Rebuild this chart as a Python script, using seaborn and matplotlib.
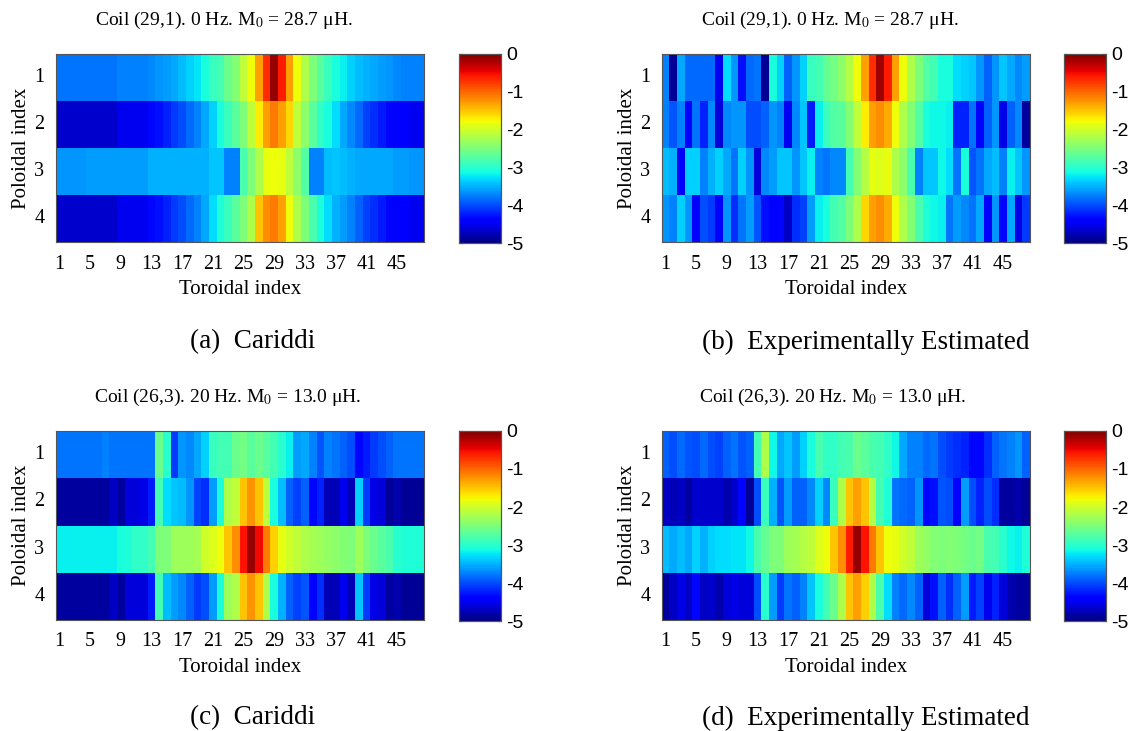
import numpy as np
import pandas as pd
import matplotlib
matplotlib.use("Agg")
import matplotlib.pyplot as plt
import seaborn as sns

sns.set_style("white")
plt.rcParams["font.family"] = ["Liberation Serif", "DejaVu Serif"]
plt.rcParams["mathtext.fontset"] = "stix"
plt.rcParams["text.color"] = "black"
plt.rcParams["axes.labelcolor"] = "black"
plt.rcParams["xtick.color"] = "black"
plt.rcParams["ytick.color"] = "black"

toroidal = list(range(1, 49))
poloidal = [1, 2, 3, 4]

# (a) Cariddi, coil (29,1), 0 Hz
a_r1 = [-3.8]*8 + [-3.75]*4 + [-3.7, -3.65, -3.6, -3.55, -3.45, -3.35, -3.25, -3.1, -2.9, -2.85, -2.6, -2.45,
        -2.1, -1.8, -1.3, -0.7, -0.1, -0.6, -1.3, -1.8, -2.2, -2.5, -2.7, -2.9, -3.1, -3.2, -3.35, -3.45,
        -3.5, -3.55, -3.6, -3.65, -3.7, -3.75, -3.75, -3.75]
a_r2 = [-4.65]*8 + [-4.5]*4 + [-4.35, -4.3, -4.2, -4.1, -4.0, -3.85, -3.75, -3.55, -3.35, -3.1, -2.9, -2.7,
        -2.5, -2.1, -1.7, -1.3, -1.1, -1.3, -1.6, -2.1, -2.4, -2.7, -2.95, -3.1, -3.3, -3.55, -3.7, -3.85,
        -4.05, -4.15, -4.25, -4.35, -4.4, -4.45, -4.5, -4.5]
a_r3 = [-3.65]*4 + [-3.6]*8 + [-3.5]*8 + [-3.4, -3.4, -3.75, -3.75,
        -2.8, -2.5, -2.2, -1.85, -1.8, -1.85, -2.1, -2.4, -2.75, -3.75, -3.75, -3.45, -3.4, -3.45, -3.5,
        -3.55, -3.55, -3.55, -3.55, -3.55, -3.6, -3.6, -3.65, -3.65]
a_r4 = [-4.65]*8 + [-4.5]*4 + [-4.35, -4.3, -4.2, -4.1, -4.0, -3.85, -3.75, -3.55, -3.3, -3.05, -2.9, -2.7,
        -2.5, -2.2, -1.5, -1.2, -1.1, -1.3, -1.8, -2.2, -2.5, -2.8, -3.1, -3.3, -3.5, -3.6, -3.75, -3.9,
        -4.05, -4.15, -4.25, -4.35, -4.4, -4.45, -4.5, -4.5]

# (b) Experimentally estimated, coil (29,1), 0 Hz
b_r1 = [-3.75, -4.9, -3.55, -3.85, -3.85, -3.85, -3.85, -4.5, -3.3, -3.65, -4.3, -3.85, -3.8, -4.9, -3.1, -3.35,
        -3.9, -3.65, -3.35, -2.9, -2.85, -2.65, -2.55, -2.4, -2.15, -1.8, -1.3, -0.7, -0.15, -0.6, -1.3, -1.8,
        -2.2, -2.5, -2.75, -2.85, -3.1, -3.1, -3.3, -3.35, -3.4, -3.65, -3.9, -3.65, -3.4, -3.55, -3.7, -3.6]
b_r2 = [-3.75, -3.95, -3.75, -4.45, -3.8, -4.2, -3.7, -4.6, -3.7, -3.65, -3.65, -4.0, -4.0, -3.9, -3.65, -3.75,
        -4.5, -3.7, -3.4, -4.25, -3.2, -2.9, -2.75, -2.7, -2.45, -2.1, -1.7, -1.3, -1.2, -1.35, -1.8, -2.2,
        -2.45, -2.75, -3.1, -3.15, -3.15, -3.2, -4.2, -4.2, -3.8, -4.45, -3.9, -3.65, -4.55, -3.9, -3.7, -4.85]
b_r3 = [-3.45, -3.5, -4.45, -3.35, -3.35, -3.75, -3.5, -3.35, -3.55, -3.8, -3.35, -3.65, -4.6, -3.7, -3.6, -3.4,
        -3.4, -3.65, -3.4, -3.2, -3.75, -3.8, -3.7, -3.7, -2.85, -2.45, -2.15, -1.85, -1.9, -1.85, -2.2, -2.4,
        -2.8, -3.75, -3.4, -3.4, -3.15, -3.3, -3.8, -3.1, -3.95, -3.8, -3.55, -3.45, -3.75, -3.2, -3.4, -3.65]
b_r4 = [-3.65, -3.75, -3.35, -3.65, -4.45, -4.0, -4.1, -4.4, -3.65, -4.15, -3.8, -3.6, -3.95, -4.3, -4.4, -4.35,
        -4.7, -4.15, -4.05, -3.6, -3.2, -3.1, -2.85, -2.75, -2.5, -2.2, -1.6, -1.3, -1.2, -1.35, -1.8, -2.2,
        -2.45, -2.8, -3.05, -3.15, -3.2, -3.8, -3.6, -3.7, -3.8, -3.55, -4.45, -3.65, -4.35, -3.55, -4.55, -4.1]

# (c) Cariddi, coil (26,3), 20 Hz
c_r1 = [-3.8]*6 + [-3.75] + [-3.8]*6 + [-2.6, -3.0, -4.1, -3.65, -3.7, -3.55, -3.35, -2.9, -2.85, -2.85, -2.6,
        -2.55, -2.7, -2.6, -2.7, -2.85, -3.0, -3.2, -3.6, -3.55, -3.75, -3.95, -3.75, -3.8, -3.9, -4.0, -4.35,
        -4.25, -4.1, -4.0, -3.9, -3.8, -3.8, -3.8, -3.8]
c_r2 = [-4.85]*7 + [-4.7, -4.85, -4.6, -4.6, -4.55, -4.25, -2.85, -3.3, -3.4, -3.45, -3.65, -4.05, -4.15, -3.6,
        -3.1, -2.2, -2.1, -1.5, -1.25, -1.5, -2.1, -3.1, -3.45, -3.9, -4.05, -3.9, -4.35, -4.2, -4.75, -4.75,
        -4.5, -4.75, -3.35, -4.1, -4.55, -4.6, -4.9, -4.8, -4.9, -4.9, -4.9]
c_r3 = [-3.2]*8 + [-3.1, -3.05, -2.95, -2.95, -2.85, -2.5, -2.5, -2.3, -2.3, -2.3, -2.25, -2.0, -1.9, -1.8, -1.5,
        -1.2, -0.55, -0.1, -0.5, -1.1, -1.55, -1.85, -2.0, -2.1, -2.2, -2.25, -2.3, -2.35, -2.4, -2.45, -2.5,
        -2.3, -2.5, -2.6, -2.7, -2.8, -3.0, -3.05, -3.05, -3.05]
c_r4 = [-4.85]*7 + [-4.7, -4.85, -4.6, -4.6, -4.6, -4.25, -2.85, -3.45, -3.6, -3.7, -3.9, -4.1, -4.0, -3.6,
        -3.1, -2.3, -2.2, -1.5, -1.25, -1.5, -2.2, -3.1, -3.5, -3.9, -4.05, -3.95, -4.4, -4.15, -4.75, -4.75,
        -4.5, -4.75, -3.4, -4.1, -4.55, -4.6, -4.85, -4.8, -4.9, -4.9, -4.9]

# (d) Experimentally estimated, coil (26,3), 20 Hz
d_r1 = [-3.9, -4.0, -3.85, -3.95, -4.0, -3.85, -4.0, -4.05, -3.9, -3.8, -3.95, -3.9, -2.85, -2.2, -3.15, -3.55,
        -3.4, -3.6, -3.35, -3.1, -2.8, -2.95, -2.95, -2.85, -2.8, -2.6, -2.7, -2.8, -2.85, -2.95, -3.15, -3.55,
        -3.75, -3.75, -3.85, -3.8, -4.0, -4.1, -4.15, -4.2, -4.35, -4.35, -4.15, -3.9, -3.8, -3.75, -3.65, -3.9]
d_r2 = [-4.7, -4.75, -4.7, -4.85, -4.65, -4.65, -4.65, -4.65, -4.8, -4.65, -4.35, -4.9, -4.0, -2.9, -3.5, -3.95,
        -3.6, -3.9, -3.9, -3.7, -3.35, -3.7, -2.9, -2.2, -1.5, -1.3, -1.5, -2.15, -2.85, -3.05, -3.8, -3.85,
        -3.9, -3.65, -4.35, -4.3, -3.95, -4.0, -4.45, -3.6, -4.0, -4.2, -4.0, -4.15, -4.85, -4.85, -4.8, -4.9]
d_r3 = [-3.45, -3.55, -3.45, -3.55, -3.35, -3.5, -3.35, -3.3, -3.3, -3.25, -3.25, -3.15, -2.8, -2.65, -2.5, -2.5,
        -2.3, -2.25, -2.15, -2.1, -1.9, -1.8, -1.5, -1.2, -0.6, -0.1, -0.55, -1.1, -1.5, -1.8, -1.85, -2.0,
        -2.1, -2.3, -2.35, -2.45, -2.5, -2.45, -2.5, -2.55, -2.6, -2.55, -2.8, -2.85, -3.0, -3.15, -3.2, -3.05]
d_r4 = [-4.85, -4.7, -4.55, -4.7, -4.35, -4.7, -4.65, -4.8, -4.6, -4.55, -4.6, -4.6, -4.0, -3.0, -3.6, -4.1,
        -3.8, -3.9, -3.75, -3.4, -3.1, -2.85, -2.6, -2.2, -1.5, -1.3, -1.55, -2.2, -2.8, -3.3, -3.75, -3.85,
        -3.7, -3.9, -4.6, -4.3, -3.9, -4.15, -3.9, -3.6, -4.25, -4.05, -4.5, -4.2, -4.6, -4.8, -4.85, -4.85]

titles = ["Coil (29,1). 0 Hz. M$_0$ = 28.7 μH.", "Coil (29,1). 0 Hz. M$_0$ = 28.7 μH.",
          "Coil (26,3). 20 Hz. M$_0$ = 13.0 μH.", "Coil (26,3). 20 Hz. M$_0$ = 13.0 μH."]
captions = ["(a)  Cariddi", "(b)  Experimentally Estimated", "(c)  Cariddi", "(d)  Experimentally Estimated"]

panels = [[a_r1, a_r2, a_r3, a_r4], [b_r1, b_r2, b_r3, b_r4],
          [c_r1, c_r2, c_r3, c_r4], [d_r1, d_r2, d_r3, d_r4]]

W, H = 1131, 731
fig = plt.figure(figsize=(W / 100, H / 100), dpi=100)


def fx(px):
    return px / W


def fy(py):
    return 1 - py / H


lefts = [55.5, 661.5, 55.5, 661.5]
cbar_lefts = [459, 1064, 459, 1064]
tops = [54, 54, 431, 431]
bottoms = [242, 242, 620, 620]
title_x = [224, 830, 228, 833]
title_y = [20, 20, 397, 397]
cap_x = [253, 866, 253, 866]
cap_y = [342, 342, 718, 718]

for i in range(4):
    rows = panels[i]
    df = pd.DataFrame(np.array(rows), index=poloidal, columns=toroidal)
    ax = fig.add_axes([fx(lefts[i]), fy(bottoms[i]), fx(368.5), (bottoms[i] - tops[i]) / H])
    cax = fig.add_axes([fx(cbar_lefts[i]), fy(bottoms[i] + 1), fx(42), (bottoms[i] + 1 - tops[i]) / H])
    sns.heatmap(df, ax=ax, cmap="jet", vmin=-5, vmax=0, cbar_ax=cax,
                xticklabels=4, yticklabels=1)
    for s in ax.spines.values():
        s.set_visible(True)
        s.set_linewidth(0.8)
        s.set_color("#555555")
    ax.tick_params(axis="both", direction="in", length=4, width=0.8, color="#222222",
                   top=True, right=True, labelsize=14.5, pad=9)
    ax.tick_params(axis="y", pad=8)
    ax.set_yticklabels(ax.get_yticklabels(), rotation=0)
    ax.set_xticklabels(ax.get_xticklabels(), rotation=0)
    ax.set_xlabel("Toroidal index", fontsize=15, labelpad=5)
    ax.set_ylabel("Poloidal index", fontsize=15, labelpad=2)

    cax.tick_params(axis="y", direction="in", length=3, width=0.8, left=True, right=True,
                    labelsize=14, pad=4)
    cax.set_yticks([0, -1, -2, -3, -4, -5])
    cax.set_yticklabels(["0", "-1", "-2", "-3", "-4", "-5"], family="Liberation Sans")
    for s in cax.spines.values():
        s.set_visible(True)
        s.set_linewidth(0.8)
        s.set_color("#555555")
    cb = ax.collections[0].colorbar
    cb.outline.set_visible(True)
    cb.outline.set_linewidth(0.8)
    cb.outline.set_edgecolor("#555555")

    fig.text(fx(title_x[i]), fy(title_y[i]), titles[i], ha="center", va="center", fontsize=14)
    fig.text(fx(cap_x[i]), fy(cap_y[i]), captions[i], ha="center", va="center", fontsize=19.5)

fig.savefig("out.png", dpi=100)
